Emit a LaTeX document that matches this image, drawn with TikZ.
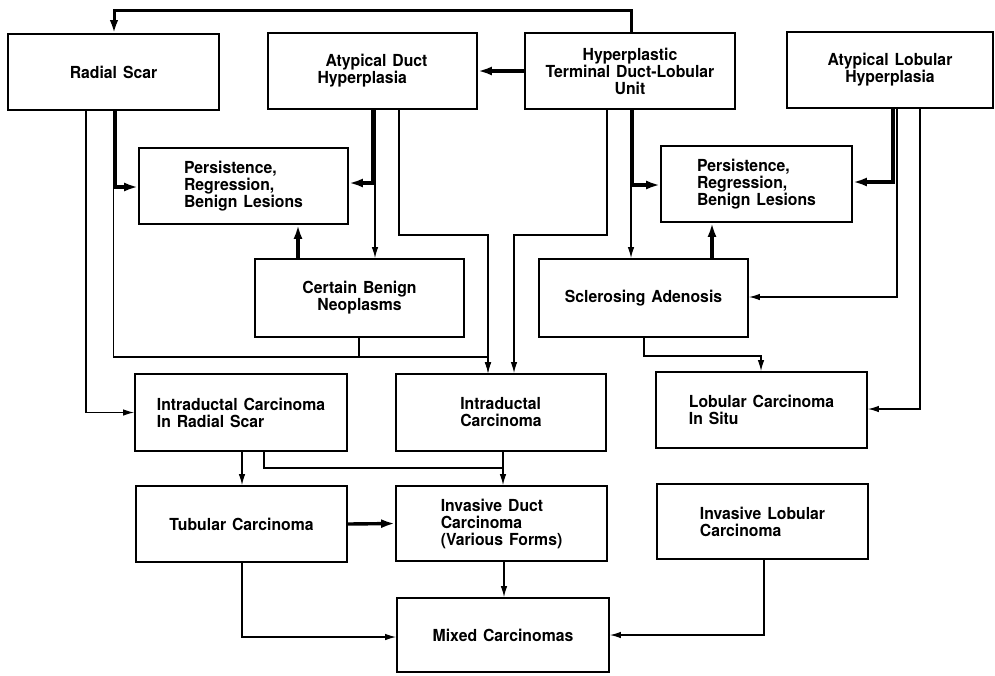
\documentclass[tikz,border=0pt]{standalone}
\usepackage{fontspec}
\setmainfont{TeX Gyre Heros}
\newfontfamily\medfont{TeX Gyre Heros}[FakeStretch=0.95,WordSpace=1.35]
\usetikzlibrary{arrows.meta}
\begin{document}
\begin{tikzpicture}[x=1pt,y=-1pt,
  box/.style={draw, line width=1.8pt, inner sep=0pt, align=center,
    font=\medfont\bfseries\fontsize{16.6}{17}\selectfont},
  lbox/.style={box, align=left},
  thinarr/.style={line width=1.2pt, -{Latex[length=11pt,width=6.5pt]}},
  thinline/.style={line width=1.2pt},
  thickarr/.style={line width=3.4pt, -{Latex[length=14pt,width=9pt]}},
  looparr/.style={line width=3pt, -{Latex[length=13pt,width=8.5pt]}},
]
\fill[white] (0,0) rectangle (995,675);
\useasboundingbox (0,0) rectangle (995,675);

% boxes
\node[box, minimum width=211pt, minimum height=76pt] (rs) at (113.5,72) {Radial Scar};
\node[lbox, minimum width=209pt, minimum height=76pt] (adh) at (372.5,71) {\hspace*{8pt}Atypical Duct\\Hyperplasia};
\node[box, minimum width=210pt, minimum height=76pt] (tdlu) at (630,71) {Hyperplastic\\Terminal Duct-Lobular\\Unit};
\node[box, minimum width=206pt, minimum height=76pt] (alh) at (890,70) {Atypical Lobular\\Hyperplasia};
\node[lbox, minimum width=209pt, minimum height=76pt] (pl) at (243.5,186) {Persistence,\\Regression,\\Benign Lesions};
\node[lbox, minimum width=191pt, minimum height=76pt] (pr) at (756.5,184) {Persistence,\\Regression,\\Benign Lesions};
\node[box, minimum width=209pt, minimum height=78pt] (cbn) at (359.5,298) {Certain Benign\\Neoplasms};
\node[box, minimum width=209pt, minimum height=78pt] (sa) at (643.5,298) {Sclerosing Adenosis};
\node[lbox, minimum width=212pt, minimum height=77pt] (icrs) at (241,412.5) {Intraductal Carcinoma\\In Radial Scar};
\node[lbox, minimum width=210pt, minimum height=77pt] (ic) at (501,412.5) {Intraductal\\Carcinoma};
\node[lbox, minimum width=211pt, minimum height=76pt] (lcis) at (761.5,410) {Lobular Carcinoma\\In Situ};
\node[box, minimum width=211pt, minimum height=76pt] (tc) at (241.5,524) {Tubular Carcinoma};
\node[lbox, minimum width=211pt, minimum height=75pt] (idc) at (501.5,523.5) {Invasive Duct\\Carcinoma\\(Various Forms)};
\node[lbox, minimum width=211pt, minimum height=75pt] (ilc) at (762.5,521.5) {Invasive Lobular\\Carcinoma};
\node[box, minimum width=212pt, minimum height=74pt] (mc) at (503,635) {Mixed Carcinomas};

% top loop
\coordinate (t1) at (631,10);
\coordinate (t2) at (114,10);
\draw[looparr] (tdlu.north -| t1) -- (t1) -- (t2) -- (rs.north -| t2);
\draw[thickarr] (tdlu.west) -- (adh.east);

% radial scar
\draw[thickarr] (115.5,0 |- rs.south) -- (115.5,187) -- (pl.west |- 0,187);
\draw[thinarr] (86,0 |- rs.south) |- (icrs.west);
\draw[thinarr] (113.5,0 |- rs.south) -- (113.5,357) -- (488,357) -- (488,0 |- ic.north);
\draw[thinline] (359,0 |- cbn.south) -- (359,357);

% atypical duct hyperplasia
\draw[thickarr] (373,0 |- adh.south) -- (373,183) -- (pl.east |- 0,183);
\draw[thinarr] (375,0 |- adh.south) -- (375,0 |- cbn.north);
\draw[thinarr] (399,0 |- adh.south) -- (399,235) -- (488,235) -- (488,0 |- ic.north);
\draw[thickarr] (298,0 |- cbn.north) -- (298,0 |- pl.south);

% hyperplastic TDLU
\draw[thinarr] (607,0 |- tdlu.south) -- (607,235) -- (514,235) -- (514,0 |- ic.north);
\draw[thickarr] (632.5,0 |- tdlu.south) -- (632.5,185) -- (pr.west |- 0,185);
\draw[thinarr] (631,0 |- tdlu.south) -- (631,0 |- sa.north);
\draw[thickarr] (712,0 |- sa.north) -- (712,0 |- pr.south);

% atypical lobular hyperplasia
\draw[thickarr] (893,0 |- alh.south) -- (893,182) -- (pr.east |- 0,182);
\draw[thinarr] (897,0 |- alh.south) -- (897,297) -- (sa.east |- 0,297);
\draw[thinarr] (920,0 |- alh.south) -- (920,409) -- (lcis.east |- 0,409);

% sclerosing adenosis
\draw[thinarr] (644,0 |- sa.south) -- (644,356) -- (761,356) -- (761,0 |- lcis.north);

% lower part
\draw[thinarr] (242,0 |- icrs.south) -- (242,0 |- tc.north);
\draw[thinline] (264,0 |- icrs.south) -- (264,468) -- (503,468);
\draw[thinarr] (503,0 |- ic.south) -- (503,0 |- idc.north);
\draw[thickarr] (tc.east) -- (idc.west);
\draw[thinarr] (504,0 |- idc.south) -- (504,0 |- mc.north);
\draw[thinarr] (242,0 |- tc.south) -- (242,637) -- (mc.west |- 0,637);
\draw[thinarr] (764,0 |- ilc.south) -- (764,635) -- (mc.east |- 0,635);
\end{tikzpicture}
\end{document}
